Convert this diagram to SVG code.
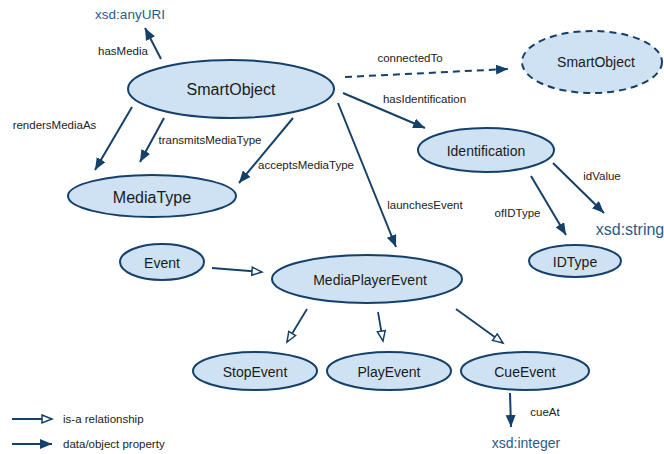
<svg xmlns="http://www.w3.org/2000/svg" width="664" height="454" viewBox="0 0 664 454">
<style>
.node{fill:#cfe2f3;stroke:#15406a;stroke-width:2}
.dash{stroke-dasharray:7,5}
.nt{font-family:"Liberation Sans",Arial,sans-serif;fill:#1a1a1a;text-anchor:middle;dominant-baseline:central}
.lbl{font-family:"Liberation Sans",Arial,sans-serif;font-size:11.5px;fill:#222;text-anchor:middle;dominant-baseline:central}
.xsd{font-family:"Liberation Sans",Arial,sans-serif;fill:#2a5b8c;text-anchor:middle;dominant-baseline:central}
.prop{stroke:#15406a;stroke-width:2;fill:none;marker-end:url(#fa)}
.isa{stroke:#15406a;stroke-width:1.8;fill:none;marker-end:url(#ha)}
</style>
<defs>
<marker id="fa" markerUnits="userSpaceOnUse" markerWidth="14" markerHeight="12" refX="12" refY="5" orient="auto" viewBox="0 0 14 12">
<path d="M0,0 L12,5 L0,10 z" fill="#15406a"/>
</marker>
<marker id="ha" markerUnits="userSpaceOnUse" markerWidth="14" markerHeight="12" refX="11" refY="5" orient="auto" viewBox="0 0 14 12">
<path d="M1,1 L11,5 L1,9 z" fill="#fff" stroke="#15406a" stroke-width="1.5"/>
</marker>
</defs>
<g id="connectors">
<line class="prop" x1="161" y1="59" x2="145" y2="28"/>
<line class="prop" x1="132" y1="107" x2="95" y2="170"/>
<line class="prop" x1="164" y1="118" x2="140" y2="162"/>
<line class="prop" x1="293" y1="118" x2="239" y2="183"/>
<line class="prop dash" x1="345" y1="77" x2="508" y2="69"/>
<line class="prop" x1="343" y1="93" x2="425" y2="128"/>
<line class="prop" x1="338" y1="103" x2="396" y2="247"/>
<line class="prop" x1="553" y1="163" x2="604" y2="213"/>
<line class="prop" x1="531" y1="176" x2="566" y2="235"/>
<line class="isa" x1="212" y1="268" x2="262" y2="272"/>
<line class="isa" x1="307" y1="309" x2="287" y2="342"/>
<line class="isa" x1="378" y1="312" x2="383" y2="341"/>
<line class="isa" x1="456" y1="309" x2="503" y2="343"/>
<line class="prop" x1="510" y1="393" x2="511" y2="427"/>
<text class="lbl" x="123" y="51">hasMedia</text>
<text class="lbl" x="54.5" y="125">rendersMediaAs</text>
<text class="lbl" x="210" y="140">transmitsMediaType</text>
<text class="lbl" x="306" y="165">acceptsMediaType</text>
<text class="lbl" x="410" y="58">connectedTo</text>
<text class="lbl" x="424.5" y="99">hasIdentification</text>
<text class="lbl" x="425" y="205">launchesEvent</text>
<text class="lbl" x="602" y="176">idValue</text>
<text class="lbl" x="517.5" y="213">ofIDType</text>
<text class="lbl" x="545" y="412">cueAt</text>
</g>
<g id="xsd-anyURI"><text class="xsd" x="130" y="14" font-size="13.5">xsd:anyURI</text></g>
<g id="xsd-string"><text class="xsd" x="630" y="229" font-size="16">xsd:string</text></g>
<g id="xsd-integer"><text class="xsd" x="526" y="443" font-size="14">xsd:integer</text></g>
<g id="SmartObject">
<ellipse class="node" cx="231" cy="89" rx="103" ry="29"/>
<text class="nt" x="231" y="89" font-size="16">SmartObject</text>
</g>
<g id="SmartObject2">
<ellipse class="node dash" cx="592" cy="62" rx="70" ry="31"/>
<text class="nt" x="596" y="62" font-size="14">SmartObject</text>
</g>
<g id="MediaType">
<ellipse class="node" cx="152" cy="196" rx="84" ry="21"/>
<text class="nt" x="152" y="197" font-size="16">MediaType</text>
</g>
<g id="Identification">
<ellipse class="node" cx="486" cy="150" rx="68" ry="22"/>
<text class="nt" x="486" y="151" font-size="14">Identification</text>
</g>
<g id="IDType">
<ellipse class="node" cx="575" cy="261" rx="46" ry="16"/>
<text class="nt" x="575" y="262" font-size="14">IDType</text>
</g>
<g id="Event">
<ellipse class="node" cx="162" cy="262" rx="42" ry="18"/>
<text class="nt" x="162" y="263" font-size="14">Event</text>
</g>
<g id="MediaPlayerEvent">
<ellipse class="node" cx="367" cy="279" rx="95" ry="24"/>
<text class="nt" x="370" y="280" font-size="14">MediaPlayerEvent</text>
</g>
<g id="StopEvent">
<ellipse class="node" cx="255" cy="371" rx="62" ry="19"/>
<text class="nt" x="255" y="372" font-size="14">StopEvent</text>
</g>
<g id="PlayEvent">
<ellipse class="node" cx="389" cy="371" rx="62" ry="19"/>
<text class="nt" x="389" y="372" font-size="14">PlayEvent</text>
</g>
<g id="CueEvent">
<ellipse class="node" cx="525" cy="371" rx="64" ry="19"/>
<text class="nt" x="525" y="372" font-size="14">CueEvent</text>
</g>
<g id="legend">
<line class="isa" x1="12" y1="419" x2="52" y2="419"/>
<text class="lbl" x="63" y="419" style="text-anchor:start">is-a relationship</text>
<line class="prop" x1="12" y1="444" x2="52" y2="444"/>
<text class="lbl" x="63" y="444" style="text-anchor:start">data/object property</text>
</g>
</svg>
